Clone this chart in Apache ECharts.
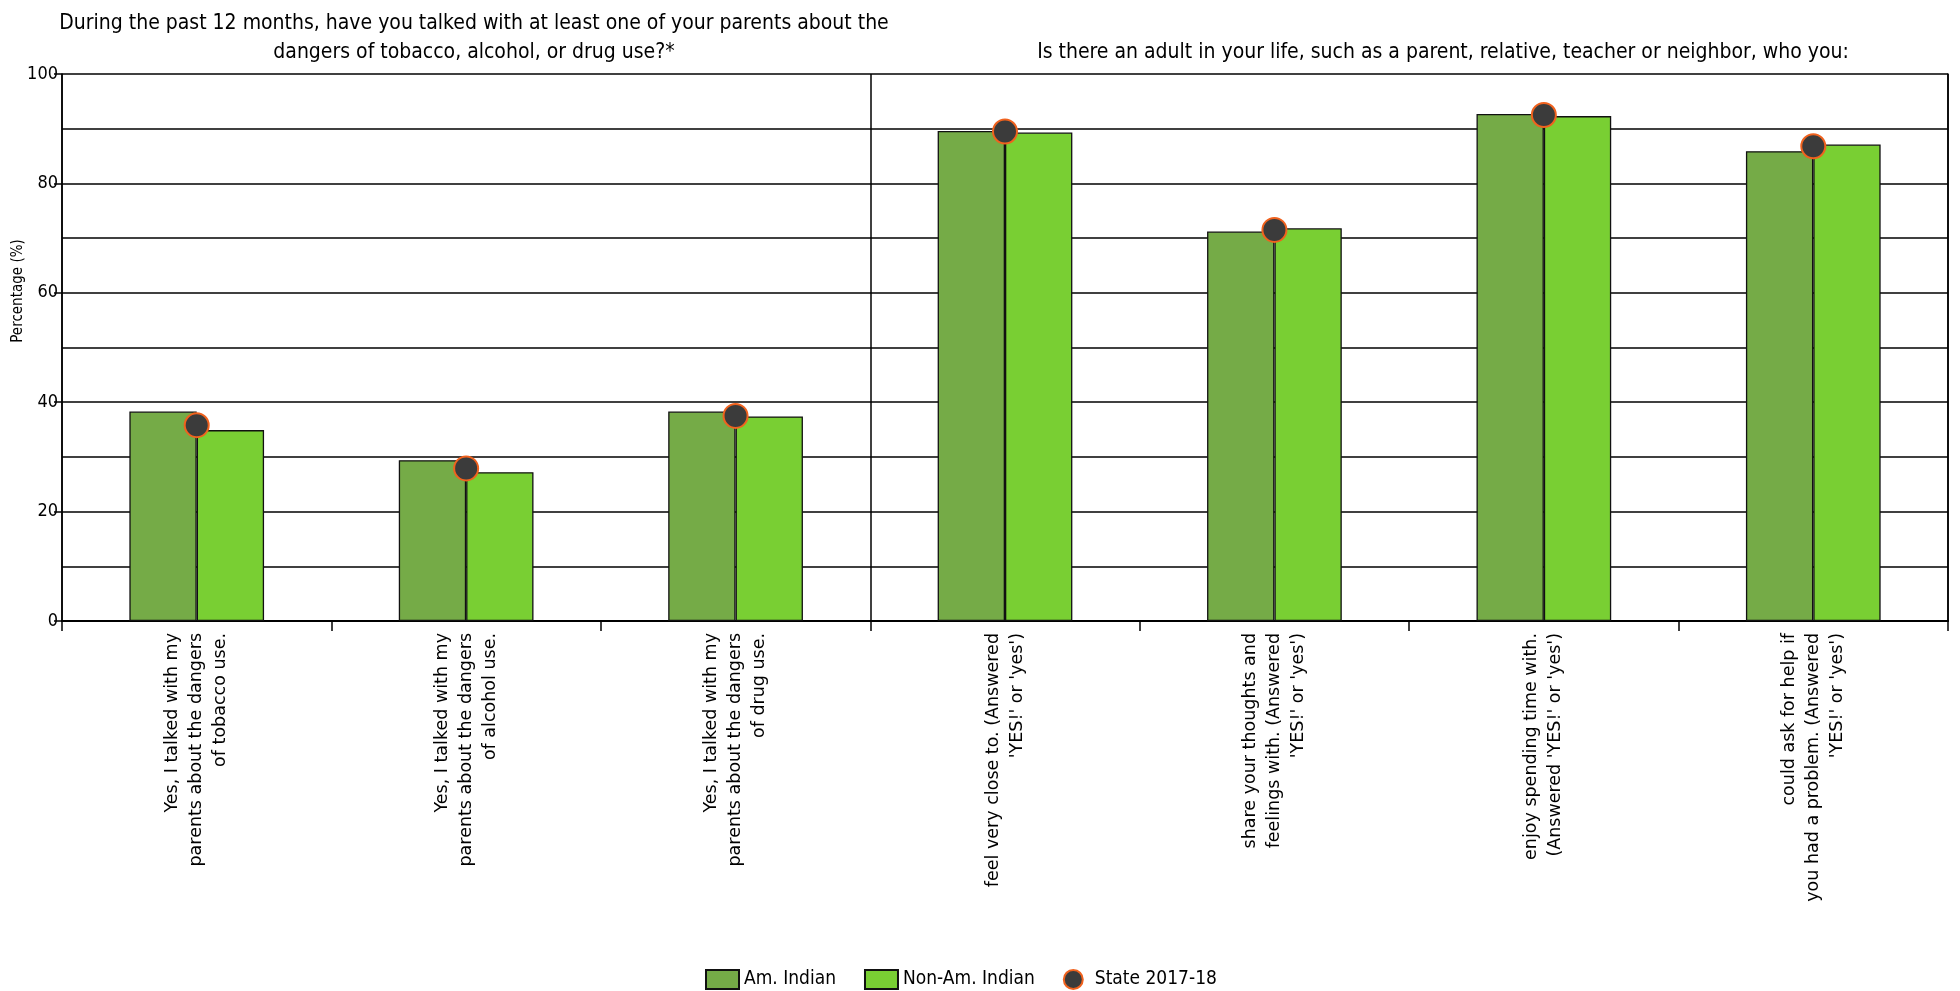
<!DOCTYPE html>
<html>
<head>
<meta charset="utf-8">
<title>Parents and adults</title>
<script src="https://cdn.jsdelivr.net/npm/echarts@6/dist/echarts.min.js"></script>
<style>
html, body { margin: 0; padding: 0; background: #fff; }
#main { width: 1960px; height: 991px; }
</style>
</head>
<body>
<div id="main"></div>
<script>
var categories = [
    'Yes, I talked with my\nparents about the dangers\nof tobacco use.',
    'Yes, I talked with my\nparents about the dangers\nof alcohol use.',
    'Yes, I talked with my\nparents about the dangers\nof drug use.',
    "feel very close to. (Answered\n'YES!' or 'yes')",
    "share your thoughts and\nfeelings with. (Answered\n'YES!' or 'yes')",
    "enjoy spending time with.\n(Answered 'YES!' or 'yes')",
    "could ask for help if\nyou had a problem. (Answered\n'YES!' or 'yes')"
];
var amIndian = [38.3, 29.4, 38.3, 89.6, 71.2, 92.7, 85.9];
var nonAmIndian = [34.9, 27.2, 37.4, 89.3, 71.8, 92.3, 87.1];
var state = [35.8, 27.9, 37.5, 89.5, 71.5, 92.5, 86.8];

var narrow = "'Liberation Sans Narrow', 'DejaVu Sans Condensed', sans-serif";
var black = { color: '#000', width: 1.5 };

var option = {
    backgroundColor: '#fff',
    animation: false,
    title: [
        {
            text: 'During the past 12 months, have you talked with at least one of your parents about the\ndangers of tobacco, alcohol, or drug use?*',
            left: 469,
            top: 4,
            textAlign: 'center',
            textStyle: { fontFamily: narrow, fontSize: 21, fontWeight: 'normal', color: '#000', lineHeight: 29 }
        },
        {
            text: 'Is there an adult in your life, such as a parent, relative, teacher or neighbor, who you:',
            left: 1438,
            top: 33,
            textAlign: 'center',
            textStyle: { fontFamily: narrow, fontSize: 21, fontWeight: 'normal', color: '#000', lineHeight: 29 }
        }
    ],
    graphic: [
        {
            type: 'text',
            x: 18,
            y: 291,
            rotation: Math.PI / 2,
            style: { text: 'Percentage (%)', fontFamily: narrow, fontSize: 15, fill: '#000', align: 'center', verticalAlign: 'middle' }
        }
    ],
    legend: {
        top: 964,
        left: 700,
        itemWidth: 33,
        itemHeight: 19,
        itemGap: 28,
        textStyle: { fontFamily: narrow, fontSize: 19, color: '#000' },
        data: [
            { name: 'Am. Indian', icon: 'rect' },
            { name: 'Non-Am. Indian', icon: 'rect' },
            { name: 'State 2017-18', icon: 'circle' }
        ]
    },
    grid: { left: 62, right: 12, top: 74, bottom: 370, containLabel: false },
    xAxis: [
        {
            type: 'category',
            data: categories,
            axisLine: { lineStyle: { color: '#000', width: 2 } },
            axisTick: { show: true, length: 10, lineStyle: black },
            axisLabel: {
                rotate: 90, interval: 0, margin: 12,
                fontFamily: 'DejaVu Sans', fontSize: 17.5, lineHeight: 24, color: '#000'
            },
            splitLine: {
                show: true,
                // ticks at 0 and 3 -> lines at left edge, panel divider, right edge
                interval: function (i) { return i === 0 || i === 3; },
                lineStyle: black
            }
        },
        {
            type: 'category',
            position: 'top',
            data: categories,
            axisLine: { show: true, lineStyle: { color: '#000', width: 2 } },
            axisTick: { show: false },
            axisLabel: { show: false },
            splitLine: { show: false }
        }
    ],
    yAxis: [
        {
            type: 'value', min: 0, max: 100, interval: 10,
            axisLine: { show: true, lineStyle: black },
            axisTick: { show: false },
            axisLabel: { show: false },
            splitLine: { show: true, lineStyle: black }
        },
        {
            type: 'value', min: 0, max: 100, interval: 20, position: 'left',
            axisLine: { show: false },
            axisTick: { show: true, length: 8, lineStyle: black },
            axisLabel: { margin: 4, fontFamily: narrow, fontSize: 18, color: '#000' },
            splitLine: { show: false }
        },
        {
            type: 'value', min: 0, max: 100, position: 'right',
            axisLine: { show: true, lineStyle: black },
            axisTick: { show: false },
            axisLabel: { show: false },
            splitLine: { show: false }
        }
    ],
    series: [
        {
            name: 'Am. Indian',
            type: 'bar',
            data: amIndian,
            barGap: '0%',
            barCategoryGap: '50%',
            itemStyle: { color: '#75ab47', borderColor: '#111', borderWidth: 1.3 }
        },
        {
            name: 'Non-Am. Indian',
            type: 'bar',
            data: nonAmIndian,
            itemStyle: { color: '#79cf33', borderColor: '#111', borderWidth: 1.3 }
        },
        {
            name: 'State 2017-18',
            type: 'scatter',
            data: state,
            symbol: 'circle',
            symbolSize: 24,
            z: 5,
            itemStyle: { color: '#3b3b3b', borderColor: '#f0621e', borderWidth: 2, opacity: 1 }
        }
    ]
};

echarts.init(document.getElementById('main')).setOption(option);
</script>
</body>
</html>
